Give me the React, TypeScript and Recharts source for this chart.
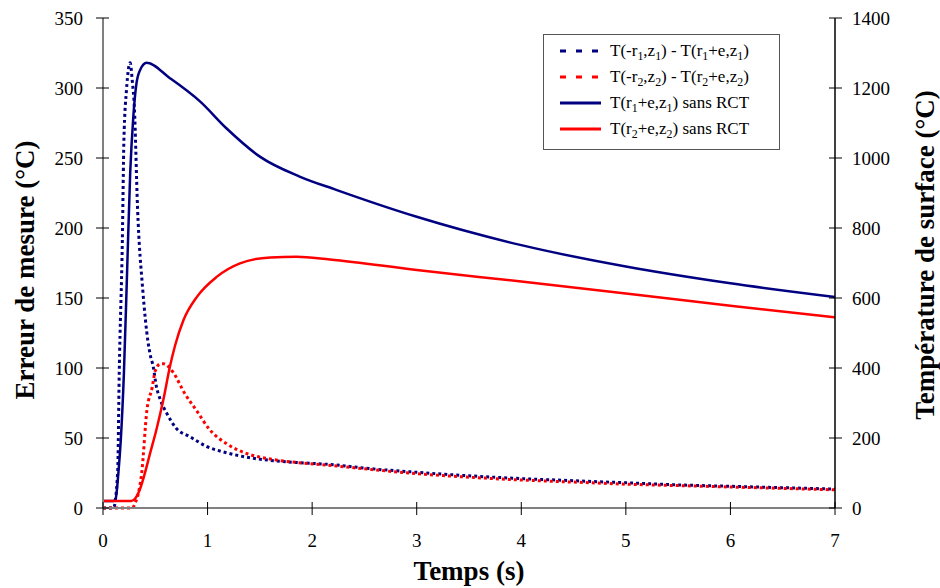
import React from "react"
import { LineChart, Line, XAxis, YAxis, Legend, Label } from "recharts"

// time (s) / error (°C) for the two measurement gaps
const err1Time = [0, 0.1, 0.14, 0.155, 0.185, 0.2, 0.225, 0.26, 0.28, 0.3, 0.33, 0.38, 0.43, 0.45, 0.48, 0.51, 0.545, 0.61, 0.7, 0.83, 0.99, 1.18, 1.44, 1.76, 2.23, 2.5, 3, 3.5, 4, 4.5, 5, 5.5, 6, 6.5, 7]
const err1Val = [0, 0, 25, 96, 191, 263, 299, 318, 305, 286, 215, 156, 119, 110, 101, 87, 78, 67.6, 57, 51, 44, 39.5, 35.5, 33, 30.7, 28.5, 25.5, 23, 21, 19.5, 18, 16.5, 15.5, 14.5, 13.5]

const err2Time = [0, 0.28, 0.31, 0.34, 0.37, 0.42, 0.47, 0.5, 0.55, 0.58, 0.67, 0.78, 0.9, 1.02, 1.18, 1.37, 1.6, 1.92, 2.23, 2.5, 3, 3.5, 4, 4.5, 5, 5.5, 6, 6.5, 7]
const err2Val = [0, 0, 4, 11, 25, 70, 86, 98, 103, 103, 97, 82, 69, 56, 46, 39, 35, 32, 30, 28, 24.5, 22, 20, 18.5, 17, 16, 15, 14, 13]

// surface temperatures without RCT (°C, right axis)
const surf1Time = [0, 0.1, 0.12, 0.147, 0.17, 0.2, 0.23, 0.26, 0.29, 0.32, 0.354, 0.417, 0.64, 0.93, 1.18, 1.5, 1.88, 2.23, 3, 4, 5, 6, 7]
const surf1Val = [20, 20, 25, 100, 194, 386, 671, 957, 1118, 1213, 1251, 1272, 1228, 1161, 1085, 1004, 947, 909, 832, 751, 690, 642, 603]

const surf2Time = [0, 0.27, 0.31, 0.355, 0.4, 0.45, 0.51, 0.577, 0.64, 0.69, 0.77, 0.9, 1.09, 1.31, 1.6, 1.85, 2.17, 3, 4, 5, 6, 7]
const surf2Val = [20, 20, 28, 55, 99, 156, 223, 309, 404, 465, 537, 604, 661, 699, 716, 718, 710, 680, 647, 613, 578, 545]

const xTicks = [0, 1, 2, 3, 4, 5, 6, 7]
const leftTicks = [0, 50, 100, 150, 200, 250, 300, 350]
const rightTicks = [0, 200, 400, 600, 800, 1000, 1200, 1400]

const toRows = (t: number[], v: number[]) => t.map((x, i) => ({ t: x, v: v[i] }))

const err1Data = toRows(err1Time, err1Val)
const err2Data = toRows(err2Time, err2Val)
const surf1Data = toRows(surf1Time, surf1Val)
const surf2Data = toRows(surf2Time, surf2Val)

const NAVY = "#000080"
const RED = "#ff0000"
const FONT = "Liberation Serif"

const XTick = ({ x, y, payload }: any) => (
  <g>
    <line x1={x} x2={x} y1={y - 6} y2={y + 7} stroke="#000" />
    <text x={x} y={y + 39} textAnchor="middle" fontFamily={FONT} fontSize={19} fill="#000">
      {payload.value}
    </text>
  </g>
)

const LeftTick = ({ x, y, payload }: any) => (
  <g>
    <line x1={x - 7} x2={x + 6} y1={y} y2={y} stroke="#000" />
    <text x={x - 20} y={y} dy="0.35em" textAnchor="end" fontFamily={FONT} fontSize={19} fill="#000">
      {payload.value}
    </text>
  </g>
)

const RightTick = ({ x, y, payload }: any) => (
  <g>
    <line x1={x - 6} x2={x + 7} y1={y} y2={y} stroke="#000" />
    <text x={x + 17} y={y} dy="0.35em" textAnchor="start" fontFamily={FONT} fontSize={19} fill="#000">
      {payload.value}
    </text>
  </g>
)

const title = (txt: string, x: number, y: number, rot: number) => () => (
  <text
    x={x}
    y={y}
    transform={rot ? `rotate(${rot} ${x} ${y})` : undefined}
    textAnchor="middle"
    dominantBaseline="central"
    fontFamily={FONT}
    fontWeight="bold"
    fontSize={27}
    fill="#000"
  >
    {txt}
  </text>
)

const sub = { fontSize: "0.7em", verticalAlign: "-0.3em", lineHeight: 0 } as const

const legendItems = [
  { color: NAVY, dashed: true, label: <>T(-r<span style={sub}>1</span>,z<span style={sub}>1</span>) - T(r<span style={sub}>1</span>+e,z<span style={sub}>1</span>)</> },
  { color: RED, dashed: true, label: <>T(-r<span style={sub}>2</span>,z<span style={sub}>2</span>) - T(r<span style={sub}>2</span>+e,z<span style={sub}>2</span>)</> },
  { color: NAVY, dashed: false, label: <>T(r<span style={sub}>1</span>+e,z<span style={sub}>1</span>) sans RCT</> },
  { color: RED, dashed: false, label: <>T(r<span style={sub}>2</span>+e,z<span style={sub}>2</span>) sans RCT</> },
]

const ChartLegend = () => (
  <div
    style={{
      width: 237,
      height: 116,
      border: "1.5px solid #555",
      background: "#fff",
      fontFamily: FONT,
      fontSize: 17,
      color: "#000",
      boxSizing: "border-box",
      paddingTop: 3,
    }}
  >
    {legendItems.map((it, i) => (
      <div key={i} style={{ display: "flex", alignItems: "center", height: 26 }}>
        <svg width={66} height={10} style={{ flex: "none" }}>
          <line
            x1={16}
            x2={57}
            y1={5}
            y2={5}
            stroke={it.color}
            strokeWidth={3}
            strokeDasharray={it.dashed ? "6 10" : undefined}
          />
        </svg>
        <span style={{ whiteSpace: "nowrap" }}>{it.label}</span>
      </div>
    ))}
  </div>
)

export default function App() {
  return (
    <div style={{ position: "absolute", left: 0, top: 0, background: "#fff" }}>
      <LineChart width={940} height={588} margin={{ top: 18, right: 0, bottom: 0, left: 0 }}>
        <XAxis
          dataKey="t"
          type="number"
          domain={[0, 7]}
          ticks={xTicks}
          allowDataOverflow
          height={80}
          tickSize={0}
          tickMargin={0}
          tickLine={false}
          tick={<XTick />}
          axisLine={{ stroke: "#808080", strokeWidth: 2 }}
        >
          <Label content={title("Temps (s)", 469, 571, 0)} />
        </XAxis>
        <YAxis
          yAxisId="left"
          orientation="left"
          type="number"
          domain={[0, 350]}
          ticks={leftTicks}
          width={103}
          tickSize={0}
          tickMargin={0}
          tickLine={false}
          tick={<LeftTick />}
          axisLine={{ stroke: "#808080", strokeWidth: 2 }}
        >
          <Label content={title("Erreur de mesure (°C)", 25, 270, -90)} />
        </YAxis>
        <YAxis
          yAxisId="right"
          orientation="right"
          type="number"
          domain={[0, 1400]}
          ticks={rightTicks}
          width={105}
          tickSize={0}
          tickMargin={0}
          tickLine={false}
          tick={<RightTick />}
          axisLine={{ stroke: "#000", strokeWidth: 1.5 }}
        >
          <Label content={title("Température de surface (°C)", 925, 255, -90)} />
        </YAxis>
        <Line
          yAxisId="right"
          data={surf1Data}
          dataKey="v"
          type="monotone"
          stroke={NAVY}
          strokeWidth={2.5}
          dot={false}
          isAnimationActive={false}
        />
        <Line
          yAxisId="left"
          data={err1Data}
          dataKey="v"
          type="monotone"
          stroke={NAVY}
          strokeWidth={3}
          strokeDasharray="3 3"
          dot={false}
          isAnimationActive={false}
        />
        <Line
          yAxisId="left"
          data={err2Data}
          dataKey="v"
          type="monotone"
          stroke={RED}
          strokeWidth={3}
          strokeDasharray="3 3"
          dot={false}
          isAnimationActive={false}
        />
        <Line
          yAxisId="right"
          data={surf2Data}
          dataKey="v"
          type="monotone"
          stroke={RED}
          strokeWidth={2.5}
          dot={false}
          isAnimationActive={false}
        />
        <Legend
          layout="vertical"
          align="center"
          verticalAlign="middle"
          content={<ChartLegend />}
          wrapperStyle={{ left: 543, top: 34, width: 237, height: 116 }}
        />
      </LineChart>
    </div>
  )
}
